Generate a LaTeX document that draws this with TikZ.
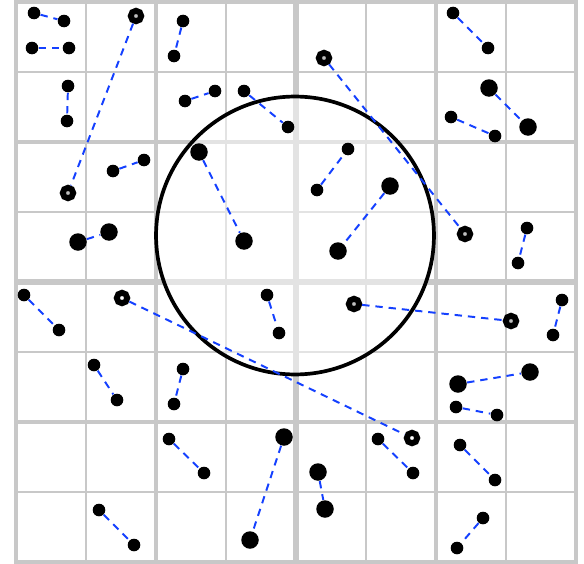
\documentclass[tikz,border=0pt]{standalone}
\definecolor{rule}{RGB}{200,200,200}
\definecolor{link}{RGB}{20,64,255}

\begin{document}
\begin{tikzpicture}[x=0.142857mm,y=-0.142857mm,
  thinrule/.style={draw=rule,line width=0.75pt},
  blockrule/.style={draw=rule,line width=1.7pt},
  midrule/.style={draw=rule,line width=2.1pt},
  zone/.style={circle,draw=black,line width=1.5pt,fill=white,fill opacity=.5,inner sep=0pt,minimum size=39.7mm},
  dot/.style={circle,fill=black,inner sep=0pt,minimum size=1.8mm},
  bigdot/.style={circle,fill=black,inner sep=0pt,minimum size=2.5mm},
  ring/.style={circle,draw=black,line width=2.4pt,fill=black!25,inner sep=0pt,minimum size=1.5mm},
  hollow/.style={ring,fill=white},
  pair/.style={draw=link,line width=0.8pt,dash pattern=on 3pt off 2.4pt}]
\useasboundingbox (0,0) rectangle (584,564);
% cells
\foreach \k in {1,3,5,7} {\draw[thinrule] (16+70*\k,2)--(16+70*\k,562); \draw[thinrule] (16,2+70*\k)--(576,2+70*\k);}
\foreach \k in {2,6} {\draw[blockrule] (16+70*\k,2)--(16+70*\k,562); \draw[blockrule] (16,2+70*\k)--(576,2+70*\k);}
\draw[midrule] (296,2)--(296,562); \draw[midrule] (16,282)--(576,282);
\draw[blockrule] (16,2) rectangle (576,562);
% query region
\node[zone] (query) at (295,235.5) {};
% point pairs
\node[dot] (a1) at (34,13) {}; \node[dot] (b1) at (64,21) {}; \draw[pair] (a1)--(b1);
\node[dot] (a2) at (32,48) {}; \node[dot] (b2) at (69,48) {}; \draw[pair] (a2)--(b2);
\node[dot] (a3) at (68,86) {}; \node[dot] (b3) at (67,121) {}; \draw[pair] (a3)--(b3);
\node[ring] (a4) at (136,16) {}; \node[ring] (b4) at (68,193) {}; \draw[pair] (a4)--(b4);
\node[dot] (a5) at (183,21) {}; \node[dot] (b5) at (174,56) {}; \draw[pair] (a5)--(b5);
\node[dot] (a6) at (185,101) {}; \node[dot] (b6) at (215,91) {}; \draw[pair] (a6)--(b6);
\node[dot] (a7) at (244,91) {}; \node[dot] (b7) at (288,127) {}; \draw[pair] (a7)--(b7);
\node[dot] (a8) at (113,171) {}; \node[dot] (b8) at (144,160) {}; \draw[pair] (a8)--(b8);
\node[bigdot] (a9) at (199,152) {}; \node[bigdot] (b9) at (244,241) {}; \draw[pair] (a9)--(b9);
\node[dot] (a10) at (317,190) {}; \node[dot] (b10) at (348,149) {}; \draw[pair] (a10)--(b10);
\node[bigdot] (a11) at (390,186) {}; \node[bigdot] (b11) at (338,251) {}; \draw[pair] (a11)--(b11);
\node[ring] (a12) at (324,58) {}; \node[ring] (b12) at (465,234) {}; \draw[pair] (a12)--(b12);
\node[dot] (a13) at (453,13) {}; \node[dot] (b13) at (488,48) {}; \draw[pair] (a13)--(b13);
\node[bigdot] (a14) at (489,88) {}; \node[bigdot] (b14) at (528,127) {}; \draw[pair] (a14)--(b14);
\node[dot] (a15) at (451,117) {}; \node[dot] (b15) at (495,136) {}; \draw[pair] (a15)--(b15);
\node[bigdot] (a16) at (78,242) {}; \node[bigdot] (b16) at (109,232) {}; \draw[pair] (a16)--(b16);
\node[dot] (a17) at (527,228) {}; \node[dot] (b17) at (518,263) {}; \draw[pair] (a17)--(b17);
\node[dot] (a18) at (24,295) {}; \node[dot] (b18) at (59,330) {}; \draw[pair] (a18)--(b18);
\node[hollow] (a19) at (122,298) {}; \node[hollow] (b19) at (412,438) {}; \draw[pair] (a19)--(b19);
\node[dot] (a20) at (267,295) {}; \node[dot] (b20) at (279,333) {}; \draw[pair] (a20)--(b20);
\node[ring] (a21) at (354,304) {}; \node[ring] (b21) at (511,321) {}; \draw[pair] (a21)--(b21);
\node[dot] (a22) at (562,300) {}; \node[dot] (b22) at (553,335) {}; \draw[pair] (a22)--(b22);
\node[dot] (a23) at (94,365) {}; \node[dot] (b23) at (117,400) {}; \draw[pair] (a23)--(b23);
\node[dot] (a24) at (183,369) {}; \node[dot] (b24) at (174,404) {}; \draw[pair] (a24)--(b24);
\node[bigdot] (a25) at (458,384) {}; \node[bigdot] (b25) at (530,372) {}; \draw[pair] (a25)--(b25);
\node[dot] (a26) at (456,407) {}; \node[dot] (b26) at (497,415) {}; \draw[pair] (a26)--(b26);
\node[dot] (a27) at (169,439) {}; \node[dot] (b27) at (204,473) {}; \draw[pair] (a27)--(b27);
\node[bigdot] (a28) at (284,437) {}; \node[bigdot] (b28) at (250,540) {}; \draw[pair] (a28)--(b28);
\node[bigdot] (a29) at (318,472) {}; \node[bigdot] (b29) at (325,509) {}; \draw[pair] (a29)--(b29);
\node[dot] (a30) at (378,439) {}; \node[dot] (b30) at (413,473) {}; \draw[pair] (a30)--(b30);
\node[dot] (a31) at (460,445) {}; \node[dot] (b31) at (495,480) {}; \draw[pair] (a31)--(b31);
\node[dot] (a32) at (483,518) {}; \node[dot] (b32) at (457,548) {}; \draw[pair] (a32)--(b32);
\node[dot] (a33) at (99,510) {}; \node[dot] (b33) at (134,545) {}; \draw[pair] (a33)--(b33);
\end{tikzpicture}
\end{document}
